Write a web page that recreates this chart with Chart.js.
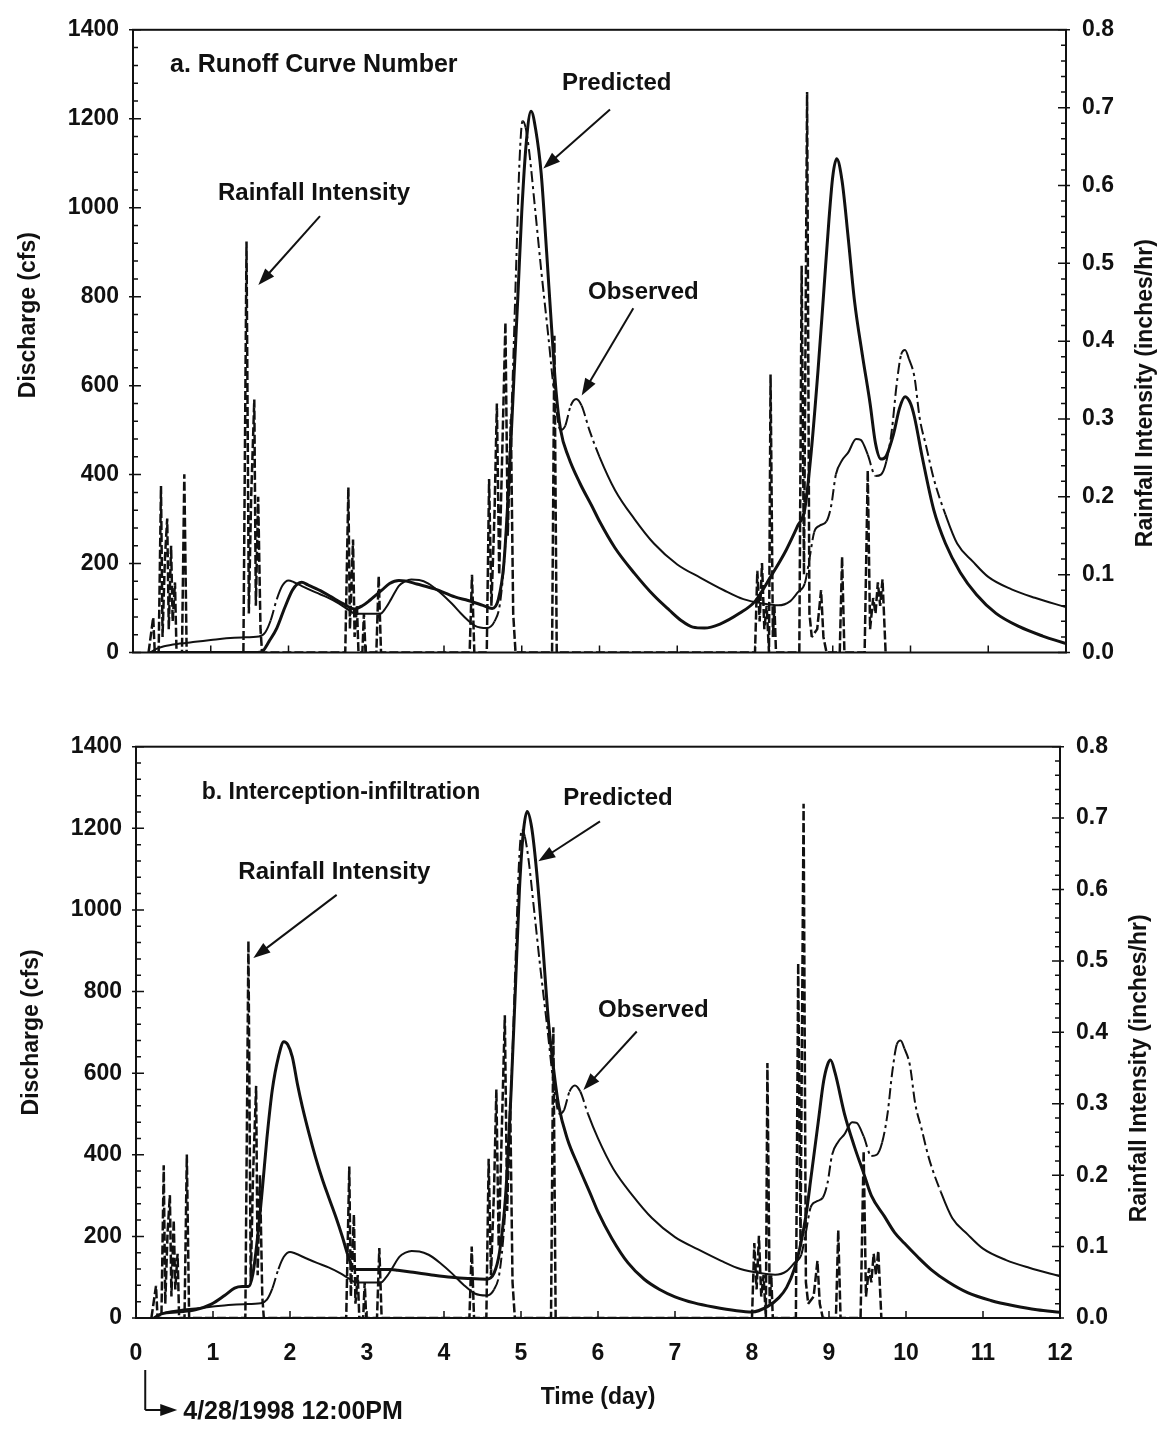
<!DOCTYPE html>
<html>
<head>
<meta charset="utf-8">
<title>Discharge and rainfall intensity</title>
<script src="https://cdn.jsdelivr.net/npm/chart.js@4.4.1/dist/chart.umd.min.js"></script>
<style>
  html, body { margin: 0; padding: 0; background: #fff; }
  #wrap { position: relative; width: 1174px; height: 1429px; }
  #wrap canvas { position: absolute; left: 0; }
  #chart-a { top: 0; }
  #chart-b { top: 700px; }
</style>
</head>
<body>
<div id="wrap">
  <canvas id="chart-a" width="1174" height="700"></canvas>
  <canvas id="chart-b" width="1174" height="729"></canvas>
</div>
<script>
// ========== axis ticks ==========
const dischargeTicks = [0, 200, 400, 600, 800, 1000, 1200, 1400];
const rainTicks = [0, 0.1, 0.2, 0.3, 0.4, 0.5, 0.6, 0.7, 0.8];
const dayTicks = [0, 1, 2, 3, 4, 5, 6, 7, 8, 9, 10, 11, 12];

// ========== rainfall intensity (inches/hr), one line per storm burst ==========
const rainDay = [
  0.20, 0.26, 0.28, 0.33, 0.36, 0.38, 0.41, 0.44, 0.46, 0.49, 0.51, 0.54, 0.56, 0.63, 0.66, 0.69,
  1.42, 1.46, 1.49, 1.52, 1.56, 1.58, 1.61, 1.64, 1.66,
  2.73, 2.77, 2.79, 2.83, 2.85, 2.88, 2.90, 2.95, 2.97, 2.99, 3.13, 3.16, 3.19,
  4.33, 4.36, 4.39,
  4.55, 4.58, 4.61, 4.65, 4.68, 4.71, 4.75, 4.79, 4.82, 4.86, 4.89, 4.92,
  5.39, 5.42, 5.45,
  8.00, 8.03, 8.06, 8.09, 8.12, 8.15, 8.18, 8.20, 8.23, 8.25, 8.27,
  8.57, 8.60, 8.63, 8.67, 8.70, 8.73, 8.80, 8.85, 8.88, 8.92,
  9.09, 9.12, 9.15,
  9.41, 9.45, 9.48, 9.52, 9.55, 9.58, 9.61, 9.64, 9.68
];
const rainRate = [
  0, 0.045, 0, 0, 0.214, 0.02, 0.12, 0.172, 0.03, 0.137, 0.04, 0.09, 0, 0, 0.229, 0,
  0, 0.528, 0.05, 0.2, 0.325, 0.06, 0.2, 0.03, 0,
  0, 0.212, 0.03, 0.145, 0.02, 0.06, 0, 0, 0.05, 0, 0, 0.098, 0,
  0, 0.1, 0,
  0, 0.223, 0.06, 0.18, 0.32, 0.1, 0.26, 0.424, 0.15, 0.3, 0.05, 0,
  0, 0.407, 0,
  0, 0.105, 0.04, 0.115, 0.03, 0.06, 0, 0.357, 0.02, 0.06, 0,
  0, 0.497, 0.1, 0.72, 0.05, 0.02, 0.03, 0.08, 0.02, 0,
  0, 0.123, 0,
  0, 0.234, 0.03, 0.07, 0.05, 0.09, 0.06, 0.094, 0
];

// ========== observed discharge (cfs) ==========
const obsDay = [
  0.22, 0.3, 0.4, 0.6, 0.8, 1.0, 1.2, 1.4, 1.62, 1.7,
  1.77, 1.85, 1.92, 2.0, 2.07, 2.2, 2.35, 2.5, 2.65, 2.78,
  2.86, 3.18, 3.25, 3.32, 3.42, 3.5, 3.58, 3.68, 3.8, 3.95,
  4.1, 4.25, 4.4, 4.55, 4.65, 4.72, 4.78, 4.83, 4.88, 4.93,
  4.97, 5.01, 5.05, 5.1, 5.17, 5.25, 5.34, 5.42, 5.5, 5.56,
  5.63, 5.7, 5.77, 5.87, 6.0, 6.2, 6.45, 6.7, 7.0, 7.3,
  7.6, 7.85, 8.1, 8.3, 8.45, 8.55, 8.64, 8.7, 8.76, 8.83,
  8.92, 8.98, 9.04, 9.12, 9.2, 9.3, 9.36, 9.45, 9.55, 9.62,
  9.69, 9.76, 9.82, 9.88, 9.93, 9.98, 10.05, 10.12, 10.2, 10.3,
  10.45, 10.6, 10.8, 11.0, 11.3, 11.6, 12.0
];
const obsFlow = [
  0, 8, 14, 20, 24, 28, 32, 34, 36, 45,
  72, 120, 150, 162, 158, 147, 135, 124, 110, 95,
  87, 87, 100, 120, 150, 160, 164, 163, 155, 135,
  110, 82, 60, 55, 70, 110, 220, 380, 600, 880,
  1100, 1195, 1180, 1120, 1000, 860, 714, 580, 500, 510,
  555, 570, 555, 500, 440, 365, 300, 245, 198, 168,
  140, 120, 110, 106, 115, 135, 155, 210, 270, 285,
  295, 330, 400, 432, 450, 480, 478, 445, 397, 400,
  430, 500, 600, 670, 680, 660, 620, 525, 465, 390,
  310, 245, 205, 170, 142, 123, 102
];

// ========== predicted discharge (cfs): a. runoff curve number ==========
const cnDay = [
  0.22, 1.6, 1.66, 1.75, 1.85, 1.95, 2.05, 2.12, 2.17, 2.25,
  2.41, 2.55, 2.7, 2.85, 2.95, 3.05, 3.2, 3.3, 3.42, 3.5,
  3.65, 3.88, 4.14, 4.31, 4.5, 4.62, 4.7, 4.77, 4.84, 4.9,
  4.95, 5.0, 5.06, 5.12, 5.18, 5.25, 5.32, 5.38, 5.44, 5.5,
  5.6, 5.75, 5.9, 6.0, 6.2, 6.45, 6.7, 6.9, 7.05, 7.2,
  7.35, 7.55, 7.8, 8.0, 8.2, 8.4, 8.55, 8.64, 8.72, 8.81,
  8.88, 8.95, 9.0, 9.05, 9.12, 9.2, 9.28, 9.38, 9.48, 9.55,
  9.62, 9.68, 9.78, 9.86, 9.93, 10.0, 10.05, 10.15, 10.3, 10.45,
  10.64, 10.85, 11.1, 11.4, 11.7, 12.0
];
const cnFlow = [
  0, 0, 2, 25, 55, 100, 140, 155, 158, 152,
  139, 125, 110, 98, 105, 118, 140, 155, 162, 161,
  154, 143, 125, 117, 106, 99, 120, 200, 400, 620,
  800, 990, 1150, 1217, 1175, 1077, 900, 740, 590, 500,
  440, 380, 330, 295, 235, 178, 128, 95, 72, 57,
  55, 64, 88, 115, 170, 230, 285, 322, 445, 633,
  800, 970, 1070, 1110, 1060, 930, 790, 670, 560, 470,
  435, 440, 490, 550, 575, 560, 530, 440, 320, 245,
  180, 130, 88, 58, 37, 20
];

// ========== predicted discharge (cfs): b. interception-infiltration ==========
const iiDay = [
  0.25, 0.33, 0.55, 0.77, 0.98, 1.15, 1.28, 1.38, 1.46, 1.52,
  1.58, 1.64, 1.7, 1.77, 1.85, 1.92, 1.97, 2.03, 2.1, 2.16,
  2.25, 2.33, 2.42, 2.5, 2.6, 2.68, 2.75, 2.81, 2.86, 3.31,
  3.4, 3.6, 3.87, 4.1, 4.31, 4.55, 4.65, 4.72, 4.8, 4.87,
  4.93, 4.98, 5.03, 5.08, 5.14, 5.2, 5.28, 5.36, 5.43, 5.49,
  5.6, 5.75, 5.9, 6.0, 6.18, 6.39, 6.6, 6.8, 7.0, 7.25,
  7.5, 7.8, 8.0, 8.2, 8.35, 8.45, 8.55, 8.62, 8.7, 8.77,
  8.86, 8.93, 8.98, 9.02, 9.08, 9.2, 9.33, 9.45, 9.55, 9.72,
  9.85, 9.98, 10.15, 10.33, 10.55, 10.8, 11.1, 11.4, 11.7, 12.0
];
const iiFlow = [
  0, 10, 15, 20, 34, 55, 73, 77, 77, 110,
  200, 314, 440, 559, 640, 677, 670, 640, 570, 518,
  450, 395, 340, 297, 245, 199, 155, 126, 119, 119,
  117, 112, 105, 100, 97, 95, 110, 160, 300, 550,
  820, 1050, 1190, 1241, 1200, 1100, 920, 720, 600, 520,
  440, 370, 305, 260, 195, 135, 95, 70, 52, 37,
  27, 18, 15, 28, 50, 75, 120, 170, 250, 350,
  480, 580, 620, 632, 600, 501, 420, 355, 300, 249,
  210, 183, 150, 118, 88, 62, 43, 30, 20, 14
];

const FONT = '"Liberation Sans", Arial, Helvetica, sans-serif';
const INK = '#111';
const tickFont = { family: FONT, size: 23, weight: 'bold' };

function toPoints(days, values) {
    return days.map((d, i) => ({ x: d, y: values[i] }));
}

// the observed trace shows its dash-dot pattern only on the steep limbs
function observedDash(ctx) {
    const dx = Math.abs(ctx.p1.x - ctx.p0.x);
    const dy = Math.abs(ctx.p1.y - ctx.p0.y);
    return dy > dx * 2.5 ? [11, 4, 3, 4] : [];
}

function drawArrow(ctx, x0, y0, x1, y1) {
    const ang = Math.atan2(y1 - y0, x1 - x0);
    const len = 17, half = 6;
    ctx.beginPath();
    ctx.moveTo(x0, y0);
    ctx.lineTo(x1 - Math.cos(ang) * len * 0.8, y1 - Math.sin(ang) * len * 0.8);
    ctx.stroke();
    ctx.beginPath();
    ctx.moveTo(x1, y1);
    ctx.lineTo(x1 - len * Math.cos(ang) + half * Math.sin(ang), y1 - len * Math.sin(ang) - half * Math.cos(ang));
    ctx.lineTo(x1 - len * Math.cos(ang) - half * Math.sin(ang), y1 - len * Math.sin(ang) + half * Math.cos(ang));
    ctx.closePath();
    ctx.fill();
}

function rotatedText(ctx, text, x, y) {
    ctx.save();
    ctx.translate(x, y);
    ctx.rotate(-Math.PI / 2);
    ctx.fillText(text, 0, 0);
    ctx.restore();
}

// frame, inward tick marks, labels and arrows of one panel
const panelDecor = {
    id: 'panelDecor',
    afterDatasetsDraw(chart, args, opts) {
        const { ctx, chartArea: a, scales } = chart;
        const sx = scales.x, sy = scales.y, sr = scales.y2;
        ctx.save();
        ctx.strokeStyle = INK;
        ctx.fillStyle = INK;

        ctx.lineWidth = 2;
        ctx.strokeRect(a.left, a.top, a.right - a.left, a.bottom - a.top);

        ctx.lineWidth = 1.5;
        ctx.beginPath();
        for (let v = 0; v <= 1400; v += 40) {
            const py = sy.getPixelForValue(v);
            const major = dischargeTicks.includes(v);
            ctx.moveTo(a.left - (major ? 4 : 0), py);
            ctx.lineTo(a.left + (major ? 8 : 5), py);
        }
        for (let k = 0; k <= 40; k++) {
            const py = sr.getPixelForValue(k * 0.02);
            const major = k % 5 === 0;
            ctx.moveTo(a.right + (major ? 4 : 0), py);
            ctx.lineTo(a.right - (major ? 8 : 5), py);
        }
        dayTicks.forEach(d => {
            const px = sx.getPixelForValue(d);
            ctx.moveTo(px, a.bottom);
            ctx.lineTo(px, a.bottom - 7);
        });
        ctx.stroke();

        ctx.textAlign = 'left';
        ctx.textBaseline = 'middle';
        opts.notes.forEach(n => {
            ctx.font = `bold ${n.size || 24}px ${FONT}`;
            ctx.fillText(n.text, sx.getPixelForValue(n.day), sy.getPixelForValue(n.flow));
        });
        ctx.lineWidth = 2;
        opts.arrows.forEach(ar => {
            drawArrow(ctx,
                sx.getPixelForValue(ar.from[0]), sy.getPixelForValue(ar.from[1]),
                sx.getPixelForValue(ar.to[0]), sy.getPixelForValue(ar.to[1]));
        });

        const mid = (a.top + a.bottom) / 2;
        ctx.font = `bold 23px ${FONT}`;
        ctx.textAlign = 'center';
        rotatedText(ctx, 'Discharge (cfs)', a.left - 104, mid + opts.leftTitleShift);
        rotatedText(ctx, 'Rainfall Intensity (inches/hr)', a.right + 80, mid + opts.rightTitleShift);

        if (opts.timeTitle) {
            ctx.fillText('Time (day)', (a.left + a.right) / 2, a.bottom + 80);
        }
        if (opts.startNote) {
            const x0 = sx.getPixelForValue(opts.startNote.day);
            const yTop = a.bottom + 52, yBot = a.bottom + 92;
            ctx.lineWidth = 2;
            ctx.beginPath();
            ctx.moveTo(x0, yTop);
            ctx.lineTo(x0, yBot);
            ctx.stroke();
            drawArrow(ctx, x0, yBot, x0 + 32, yBot);
            ctx.font = `bold 25px ${FONT}`;
            ctx.textAlign = 'left';
            ctx.fillText(opts.startNote.text, x0 + 38, yBot + 2);
        }
        ctx.restore();
    }
};

function drawPanel(canvasId, predDay, predFlow, p) {
    const ctx = document.getElementById(canvasId);
    return new Chart(ctx, {
        type: 'line',
        data: {
            datasets: [
                {
                    label: 'Predicted',
                    data: toPoints(predDay, predFlow),
                    yAxisID: 'y',
                    borderColor: INK,
                    borderWidth: 3,
                    cubicInterpolationMode: 'monotone',
                    order: 0
                },
                {
                    label: 'Observed',
                    data: toPoints(obsDay, obsFlow),
                    yAxisID: 'y',
                    borderColor: INK,
                    borderWidth: 2,
                    cubicInterpolationMode: 'monotone',
                    segment: { borderDash: observedDash },
                    order: 1
                },
                {
                    label: 'Rainfall Intensity',
                    data: toPoints(rainDay, rainRate),
                    yAxisID: 'y2',
                    borderColor: INK,
                    borderWidth: 2.5,
                    borderDash: [9, 3],
                    borderJoinStyle: 'bevel',
                    tension: 0,
                    order: 2
                }
            ]
        },
        options: {
            responsive: false,
            animation: false,
            events: [],
            layout: { padding: { top: p.top, left: 0, right: 0, bottom: 0 } },
            elements: { point: { radius: 0 } },
            plugins: {
                legend: { display: false },
                tooltip: { enabled: false },
                panelDecor: p.decor
            },
            scales: {
                x: {
                    type: 'linear',
                    min: 0,
                    max: 12,
                    afterBuildTicks: s => { s.ticks = dayTicks.map(v => ({ value: v })); },
                    afterFit: s => { s.height = p.xHeight; },
                    grid: { display: false, drawTicks: false },
                    border: { display: false },
                    ticks: {
                        display: p.dayLabels,
                        padding: 22,
                        color: INK,
                        font: tickFont,
                        autoSkip: false,
                        maxRotation: 0,
                        callback: function(value) {
                            return String(value);
                        }
                    }
                },
                y: {
                    type: 'linear',
                    position: 'left',
                    min: 0,
                    max: 1400,
                    afterBuildTicks: s => { s.ticks = dischargeTicks.map(v => ({ value: v })); },
                    afterFit: s => { s.width = p.leftWidth; },
                    grid: { display: false, drawTicks: false },
                    border: { display: false },
                    ticks: {
                        padding: 14,
                        color: INK,
                        font: tickFont,
                        callback: function(value) {
                            return String(value);
                        }
                    }
                },
                y2: {
                    type: 'linear',
                    position: 'right',
                    min: 0,
                    max: 0.8,
                    afterBuildTicks: s => { s.ticks = rainTicks.map(v => ({ value: v })); },
                    afterFit: s => { s.width = p.rightWidth; },
                    grid: { display: false, drawTicks: false },
                    border: { display: false },
                    ticks: {
                        padding: 16,
                        color: INK,
                        font: tickFont,
                        callback: function(value) {
                            return Number(value).toFixed(1);
                        }
                    }
                }
            }
        },
        plugins: [panelDecor]
    });
}

// a. Runoff Curve Number
drawPanel('chart-a', cnDay, cnFlow, {
    top: 21,
    xHeight: 700 - 652.5,
    leftWidth: 133,
    rightWidth: 108,
    dayLabels: false,
    decor: {
        leftTitleShift: -26,
        rightTitleShift: 52,
        timeTitle: false,
        notes: [
            { text: 'a. Runoff Curve Number', day: 0.476, flow: 1320, size: 25 },
            { text: 'Rainfall Intensity', day: 1.093, flow: 1033 },
            { text: 'Predicted', day: 5.518, flow: 1280 },
            { text: 'Observed', day: 5.852, flow: 809 }
        ],
        arrows: [
            { from: [2.405, 981], to: [1.612, 826] },
            { from: [6.135, 1221], to: [5.277, 1088] },
            { from: [6.435, 774], to: [5.771, 578] }
        ]
    }
});

// b. Interception-infiltration
drawPanel('chart-b', iiDay, iiFlow, {
    top: 46.7,
    xHeight: 729 - 618,
    leftWidth: 136,
    rightWidth: 114,
    dayLabels: true,
    decor: {
        leftTitleShift: 0,
        rightTitleShift: 36,
        timeTitle: true,
        startNote: { day: 0.12, text: '4/28/1998 12:00PM' },
        notes: [
            { text: 'b. Interception-infiltration', day: 0.853, flow: 1288, size: 23 },
            { text: 'Rainfall Intensity', day: 1.329, flow: 1092 },
            { text: 'Predicted', day: 5.55, flow: 1274 },
            { text: 'Observed', day: 6.0, flow: 755 }
        ],
        arrows: [
            { from: [2.606, 1037], to: [1.524, 882] },
            { from: [6.026, 1217], to: [5.225, 1119] },
            { from: [6.503, 702], to: [5.81, 559] }
        ]
    }
});
</script>
</body>
</html>
